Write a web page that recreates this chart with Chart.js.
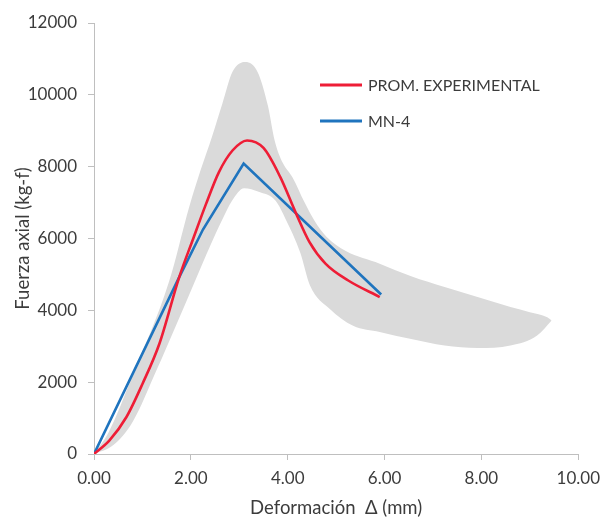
<!DOCTYPE html>
<html>
<head>
<meta charset="utf-8">
<script src="https://cdn.jsdelivr.net/npm/chart.js@4.4.1/dist/chart.umd.min.js"></script>
<style>
  html, body { margin: 0; padding: 0; background: #ffffff; }
  #wrap { width: 608px; height: 519px; }
</style>
</head>
<body>
<div id="wrap"><canvas id="c" width="608" height="519"></canvas></div>
<script>
// Promedio experimental (curva suavizada)
const expX = [0, 0.32, 0.67, 1.0, 1.35, 1.76, 2.05, 2.31, 2.58, 2.86, 3.16, 3.5, 3.85, 4.16, 4.45, 4.78, 5.25, 5.9];
const expY = [0, 380, 1030, 1950, 3070, 4925, 6000, 6950, 7850, 8450, 8730, 8520, 7700, 6735, 5900, 5300, 4830, 4370];

// Modelo MN-4
const mnX = [0, 1.76, 2.25, 3.09, 5.93];
const mnY = [0, 4925, 6250, 8084, 4440];

// Envolvente de ensayos: borde superior
const upX = [0, 0.3, 0.8, 1.55, 1.97, 2.2, 2.44, 2.65, 2.86, 3.13, 3.38, 3.59, 3.73, 3.9, 4.1, 4.35, 4.55, 4.8, 5.2, 5.9, 6.55, 7.24, 7.92, 8.6, 9.0, 9.36, 9.45];
const upY = [0, 600, 2200, 4800, 6900, 7900, 8850, 9750, 10640, 10914, 10630, 9700, 8730, 8100, 7700, 7000, 6500, 6050, 5650, 5300, 4950, 4650, 4370, 4090, 3950, 3810, 3720];

// Envolvente de ensayos: borde inferior
const loX = [0, 0.4, 0.8, 1.29, 1.7, 2.1, 2.4, 2.65, 2.85, 3.1, 3.4, 3.75, 3.96, 4.26, 4.46, 4.87, 5.35, 5.9, 6.55, 7.24, 7.92, 8.6, 9.15, 9.45];
const loY = [0, 250, 900, 2330, 3600, 4860, 5800, 6530, 7050, 7400, 7300, 7050, 6530, 5600, 4690, 4040, 3570, 3400, 3200, 3020, 2950, 3020, 3300, 3720];

// Ejes
const xTicks = [0, 2, 4, 6, 8, 10];
const yTicks = [0, 2000, 4000, 6000, 8000, 10000, 12000];

const serieExp = 'PROM. EXPERIMENTAL';
const serieMN = 'MN-4';

const pts = (xs, ys) => xs.map((x, i) => ({ x: x, y: ys[i] }));

const FONT = 'Lato, "Liberation Sans", sans-serif';
const TXT = '#3c3c3c';
const AXIS = '#bfbfbf';
const RED = '#ee1d36';
const BLUE = '#1f74be';
const BAND = '#dadada';

// Leyenda dentro del área de trazado
const legendInside = {
  id: 'legendInside',
  afterDraw(chart) {
    const { ctx, chartArea } = chart;
    const items = [
      { label: serieExp, color: RED },
      { label: serieMN, color: BLUE }
    ];
    const x0 = chartArea.left + 226;
    const y0 = chartArea.top + 62;
    ctx.save();
    ctx.font = '16px ' + FONT;
    ctx.textBaseline = 'middle';
    ctx.fillStyle = TXT;
    items.forEach((it, i) => {
      const y = y0 + i * 36;
      ctx.strokeStyle = it.color;
      ctx.lineWidth = 3;
      ctx.beginPath();
      ctx.moveTo(x0, y);
      ctx.lineTo(x0 + 42, y);
      ctx.stroke();
      ctx.fillText(it.label, x0 + 48, y + 1);
    });
    ctx.restore();
  }
};

new Chart(document.getElementById('c'), {
  type: 'line',
  data: {
    datasets: [
      {
        label: serieExp,
        data: pts(expX, expY),
        borderColor: RED,
        borderWidth: 2.6,
        pointRadius: 0,
        fill: false,
        cubicInterpolationMode: 'monotone',
        order: 0
      },
      {
        label: serieMN,
        data: pts(mnX, mnY),
        borderColor: BLUE,
        borderWidth: 2.6,
        pointRadius: 0,
        fill: false,
        tension: 0,
        order: 1
      },
      {
        label: 'sup',
        data: pts(upX, upY),
        borderColor: BAND,
        borderWidth: 0,
        backgroundColor: BAND,
        pointRadius: 0,
        fill: '+1',
        cubicInterpolationMode: 'monotone',
        order: 2
      },
      {
        label: 'inf',
        data: pts(loX, loY),
        borderColor: BAND,
        borderWidth: 0,
        pointRadius: 0,
        fill: false,
        cubicInterpolationMode: 'monotone',
        order: 3
      }
    ]
  },
  options: {
    responsive: false,
    animation: false,
    devicePixelRatio: 1,
    layout: { padding: { top: 23, right: 27, left: 0, bottom: 0 } },
    plugins: {
      legend: { display: false },
      tooltip: { enabled: false }
    },
    scales: {
      x: {
        type: 'linear',
        min: 0,
        max: 10,
        afterFit: s => { s.height = 65; },
        afterBuildTicks: s => { s.ticks = xTicks.map(v => ({ value: v })); },
        ticks: {
          callback: v => Number(v).toFixed(2),
          color: TXT,
          font: { family: FONT, size: 17 },
          padding: 8,
          maxRotation: 0
        },
        grid: { drawOnChartArea: false, drawTicks: true, tickLength: 6, color: AXIS },
        border: { display: true, color: AXIS, width: 1 },
        title: {
          display: true,
          text: 'Deformación  Δ (mm)',
          color: TXT,
          font: { family: FONT, size: 18.5 },
          padding: { top: 0, bottom: 0 }
        }
      },
      y: {
        type: 'linear',
        min: 0,
        max: 12000,
        afterFit: s => { s.width = 94; },
        afterBuildTicks: s => { s.ticks = yTicks.map(v => ({ value: v })); },
        ticks: {
          callback: v => String(v),
          color: TXT,
          font: { family: FONT, size: 17 },
          padding: 11
        },
        grid: { drawOnChartArea: false, drawTicks: true, tickLength: 6, color: AXIS },
        border: { display: true, color: AXIS, width: 1 },
        title: {
          display: true,
          text: 'Fuerza axial (kg-f)',
          color: TXT,
          font: { family: FONT, size: 18.5 },
          padding: { top: 12, bottom: 0 }
        }
      }
    }
  },
  plugins: [legendInside]
});
</script>
</body>
</html>
